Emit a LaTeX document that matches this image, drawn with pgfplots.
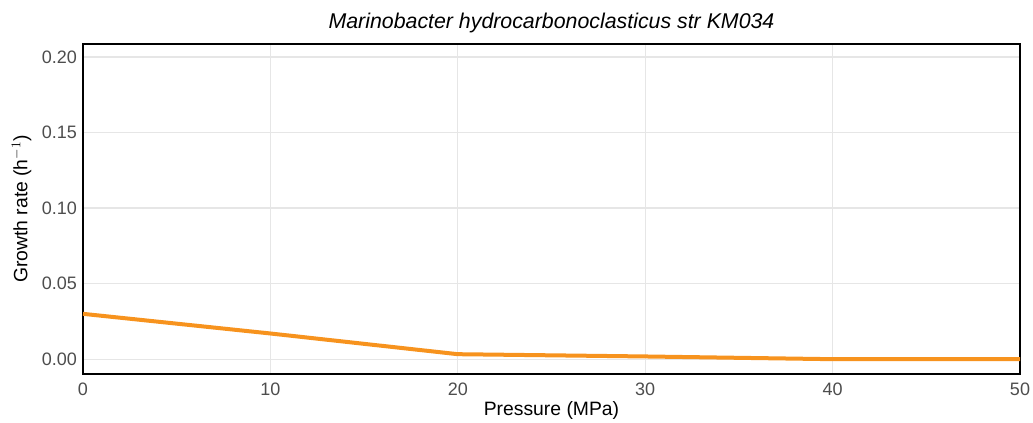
\documentclass[border=0pt]{standalone}
\usepackage{pgfplots}
\pgfplotsset{compat=1.18}
\usepackage{fontspec}
\setmainfont{Liberation Sans}
\usetikzlibrary{calc}
\definecolor{lineorange}{HTML}{F7931E}
\definecolor{tickgray}{HTML}{4D4D4D}
\definecolor{gridgray}{HTML}{E6E6E6}
\begin{document}
\begin{tikzpicture}
\begin{axis}[
  name=ax,
  scale only axis,
  width=702.75pt, height=247.5pt,
  xmin=0, xmax=50, ymin=-0.0098, ymax=0.2085,
  xtick={0,10,20,30,40,50},
  ytick={0,0.05,0.1,0.15,0.2},
  yticklabel style={/pgf/number format/fixed, /pgf/number format/fixed zerofill, /pgf/number format/precision=2},
  /pgf/number format/assume math mode=true,
  tick label style={font=\fontsize{13.5}{15}\selectfont, text=tickgray},
  xticklabel style={yshift=-3pt},
  yticklabel style={xshift=-1pt},
  major tick length=0pt,
  grid=major,
  major grid style={gridgray, line width=1pt},
  axis line style={black, line width=1.2pt},
  xlabel={Pressure (MPa)},
  ylabel={Growth rate (h$^{-1}$)},
  xlabel style={font=\fontsize{14.5}{16}\selectfont, yshift=2.5pt},
  ylabel style={font=\fontsize{14.5}{16}\selectfont, yshift=1pt},
  title={\itshape Marinobacter hydrocarbonoclasticus str KM034},
  title style={font=\fontsize{16}{18}\selectfont, yshift=-1pt},
  clip=true,
]
\addplot[lineorange, line width=3pt] coordinates {
  (0,0.030) (10,0.017) (20,0.0033) (30,0.0018) (40,0.0) (50,0.0)
};
\end{axis}
\pgfresetboundingbox
\path[use as bounding box] ($(ax.south west)+(-62.25pt,-36.75pt)$) rectangle ($(ax.north east)+(9.75pt,33pt)$);
\end{tikzpicture}
\end{document}
